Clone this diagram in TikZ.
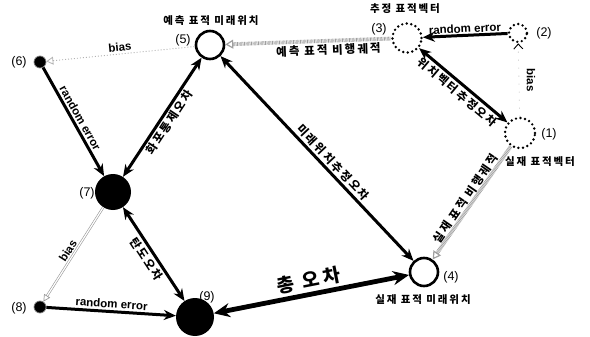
\documentclass[tikz,border=0pt]{standalone}
\usepackage{fontspec}
\setmainfont{Liberation Sans}
\newfontfamily\kr{Noto Sans CJK KR}[LetterSpace=18]
\usetikzlibrary{arrows.meta}

\tikzset{
  hollow/.style={circle, draw, line width=2.6pt, minimum size=28pt, inner sep=0pt},
  ringdot/.style={circle, draw, line width=2.7pt, line cap=round, dash pattern=on 0pt off 4.6pt, minimum size=29pt, inner sep=0pt},
  smalldot/.style={circle, fill=black, draw=gray, line width=0.7pt, minimum size=12pt, inner sep=0pt},
  bigdot/.style={circle, fill=black, minimum size=36pt, inner sep=0pt},
  num/.style={font=\fontsize{12.5}{14}\selectfont, inner sep=1pt},
  krtitle/.style={font=\kr\bfseries\fontsize{10.5}{12}\selectfont, inner sep=1pt},
  krmid/.style={font=\kr\bfseries\fontsize{11.5}{13}\selectfont, inner sep=2pt},
  enlab/.style={font=\bfseries\fontsize{11.5}{13}\selectfont, inner sep=2pt},
  err/.style={line width=3pt, >={Stealth[length=12pt,width=10pt]}},
  traj/.style={line width=3.8pt, draw=gray!75, dash pattern=on 0.7pt off 0.7pt,
    >={Triangle[open,length=8pt,width=9pt,line width=1.2pt]}},
  biasthin/.style={line width=0.9pt, draw=gray!60, dash pattern=on 1pt off 2pt,
    >={Triangle[open,length=7pt,width=8pt,line width=0.8pt]}},
  biasdbl/.style={double=white, draw=gray!80, line width=0.6pt, double distance=1.2pt,
    >={Triangle[open,length=7pt,width=7pt,line width=0.7pt]}},
  biasfaint/.style={line width=0.8pt, draw=gray!45, dash pattern=on 1pt off 7pt,
    >={Straight Barb[length=5pt,width=9pt,line width=0.9pt,black]}}
}

\begin{document}
\begin{tikzpicture}[x=1pt,y=-1pt]
\useasboundingbox (0,0) rectangle (590,337);
% 표적 위치
\node[ringdot, minimum size=18pt] (n2) at (518,33) {};
\node[ringdot, minimum size=30pt] (n1) at (520,133) {};
\node[ringdot] (n3) at (407,38) {};
\node[hollow] (n5) at (210,45) {};
\node[hollow] (n4) at (424,272) {};
% 탄착점
\node[smalldot] (n6) at (40,62) {};
\node[smalldot] (n8) at (40,307) {};
\node[bigdot] (n7) at (113,192) {};
\node[bigdot, minimum size=38pt] (n9) at (195,317) {};
% 번호
\node[num] (p5) at (183,40) {(5)};
\node[num] (p3) at (379,29) {(3)};
\node[num] (p2) at (544,33) {(2)};
\node[num] (p1) at (549,134) {(1)};
\node[num] (p6) at (19,62) {(6)};
\node[num] (p7) at (87,193) {(7)};
\node[num] (p8) at (19,308) {(8)};
\node[num] (p9) at (207,297) {(9)};
\node[num] (p4) at (451,277) {(4)};
% 이름
\node[krtitle] (t5) at (211,21) {예측 표적 미래위치};
\node[krtitle] (t3) at (405,9) {추정 표적벡터};
\node[krtitle] (t1) at (540,162) {실재 표적벡터};
\node[krtitle] (t4) at (423,300) {실재 표적 미래위치};
% 표적 쪽 오차
\draw[err, <-] (n3) -- (n2) node[midway, above, sloped, enlab, inner sep=1pt] (l23) {random error};
\draw[biasfaint, ->] (n1) -- (n2);
\node[enlab, rotate=-90] (l12) at (531,80) {bias};
\draw[err, <->] (n3) -- (n1) node[midway, below, sloped, krmid] (l31) {위치벡터추정오차};
% 비행궤적
\draw[traj, <-] (n5) -- (n3) node[pos=0.62, below, sloped, krmid] (l35) {예측 표적 비행궤적};
\draw[traj, <-] (n4) -- (n1) node[midway, above, sloped, krmid, inner sep=0pt] (l14) {실재 표적 비행궤적};
% 탄 쪽 오차
\draw[biasthin, <-] (n6) -- (n5) node[midway, above, sloped, enlab] (l56) {bias};
\draw[err, ->] (n6) -- (n7) node[midway, above, sloped, enlab] (l67) {random error};
\draw[err, <->] (n7) -- (n5) node[midway, below, sloped, krmid] (l75) {화포통제오차};
\draw[err, <->] (n5) -- (n4) node[pos=0.55, above, sloped, krmid] (l54) {미래위치추정오차};
\draw[biasdbl, <-] (n8) -- (n7) node[midway, above, sloped, enlab] (l78) {bias};
\draw[err, ->] (n8) -- (n9) node[midway, above, sloped, enlab] (l89) {random error};
\draw[err, <->] (n7) -- (n9) node[midway, below, sloped, krmid] (l79) {탄도오차};
% 총 오차
\draw[err, line width=4.8pt, >={Stealth[length=16pt,width=14pt]}, <->] (n9) -- (n4)
  node[midway, above, sloped, font=\kr\bfseries\fontsize{19}{21}\selectfont, inner sep=3pt] (l94) {총 오차};
\end{tikzpicture}
\end{document}
